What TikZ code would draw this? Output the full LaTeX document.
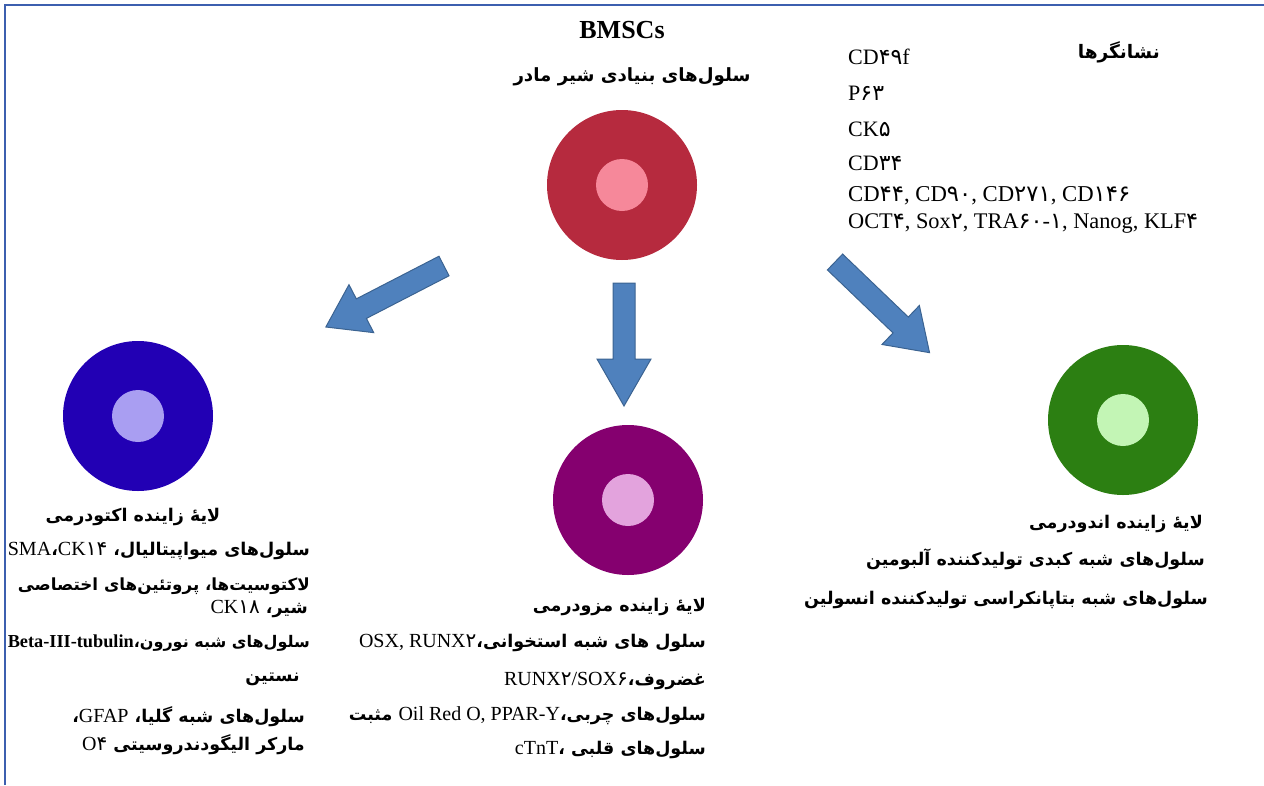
\documentclass[tikz,border=0pt]{standalone}
\usepackage{fontspec}
\setmainfont{Liberation Serif}
\newfontfamily\fa[Script=Arabic]{DejaVu Sans}
\newfontfamily\fadig[Scale=1.0]{DejaVu Sans}
\TeXXeTstate=1
\newcommand\pd[1]{{\fadig\mdseries #1}}
\newcommand\ltsz{20}
\newcommand\lt[1]{{\rmfamily\mdseries\fontsize{\ltsz}{\ltsz}\selectfont #1}}
\newsavebox\fitbox
\newdimen\fitdim
\makeatletter
\newcommand\fitto[2]{\sbox\fitbox{#2}\fitdim=\wd\fitbox
  \pgfmathsetmacro\fitr{max(0.85,min(1.12,#1/\fitdim))}%
  \pgfmathsetmacro\newsz{\f@size*\fitr}%
  \pgfmathsetmacro\newlt{\ltsz*\fitr}%
  \let\ltsz\newlt
  \fontsize{\newsz}{\newsz}\selectfont #2}
\makeatother
\definecolor{redout}{HTML}{B62A3E}
\definecolor{redin}{HTML}{F6889A}
\definecolor{blueout}{HTML}{2200B4}
\definecolor{bluein}{HTML}{A99EF2}
\definecolor{purout}{HTML}{85006F}
\definecolor{purin}{HTML}{E3A3DD}
\definecolor{grout}{HTML}{2C7F12}
\definecolor{grin}{HTML}{C3F5B5}
\definecolor{arrfill}{HTML}{4F81BD}
\definecolor{arrdraw}{HTML}{3B6391}
\definecolor{frame}{HTML}{3C5FAF}
\tikzset{
  outer/.style={circle, inner sep=0pt, minimum size=150pt},
  inner/.style={circle, inner sep=0pt, minimum size=52pt},
  barrow/.style={fill=arrfill, draw=arrdraw, line width=1pt, line join=miter},
  fatxt/.style={font=\fa\bfseries\fontsize{17.5}{21}\selectfont, inner sep=0pt, anchor=east},
  latxt/.style={font=\fontsize{22}{26}\selectfont, inner sep=0pt, anchor=west},
}
\newcommand\blockarr[4]{%
  \begin{scope}[shift={(#1)}, rotate=#2]
    \draw[barrow] (0,-11) -- ({#3-#4},-11) -- ({#3-#4},-27) -- (#3,0) -- ({#3-#4},27) -- ({#3-#4},11) -- (0,11) -- cycle;
  \end{scope}}
\begin{document}
\begin{tikzpicture}[x=1pt, y=-1pt]
\useasboundingbox (0,0) rectangle (1264,785);
\draw[frame, line width=1.5pt] (5,785) -- (5,5) -- (1264,5);

% title
\node[font=\bfseries\fontsize{26}{30}\selectfont, inner sep=0pt] (bmsc) at (622,30) {BMSCs};
\node[fatxt, anchor=center] (bmscfa) at (632,77) {\fitto{237}{\beginR سلول‌های بنیادی شیر مادر\endR}};

% circles
\node[outer, fill=redout] (mother) at (622,185) {};
\node[inner, fill=redin] at (mother) {};
\node[outer, fill=blueout] (ecto) at (138,416) {};
\node[inner, fill=bluein] at (ecto) {};
\node[outer, fill=purout] (meso) at (628,500) {};
\node[inner, fill=purin] at (meso) {};
\node[outer, fill=grout] (endo) at (1123,420) {};
\node[inner, fill=grin] at (endo) {};

% arrows
\coordinate (aL) at (444,266);
\coordinate (aM) at (624,283);
\coordinate (aR) at (835,262);
\blockarr{aL}{207.3}{133}{40}
\blockarr{aM}{270}{123}{47}
\blockarr{aR}{-43.8}{131}{40}

% markers
\node[fatxt] (mk) at (1160,52) {\fitto{82}{\beginR نشانگرها\endR}};
\node[latxt] (m1) at (848,57) {CD\pd{۴۹}f};
\node[latxt] (m2) at (848,93) {P\pd{۶۳}};
\node[latxt] (m3) at (848,129) {CK\pd{۵}};
\node[latxt] (m4) at (848,163) {CD\pd{۳۴}};
\node[latxt] (m5) at (848,196) {\fitto{282}{CD\pd{۴۴}, CD\pd{۹۰}, CD\pd{۲۷۱}, CD\pd{۱۴۶}}};
\node[latxt] (m6) at (848,224) {\fitto{350}{OCT\pd{۴}, Sox\pd{۲}, TRA\pd{۶۰}-\pd{۱}, Nanog, KLF\pd{۴}}};

% ectoderm
\node[fatxt, anchor=center] (e1) at (133,517) {\beginR لایهٔ زاینده اکتودرمی\endR};
\node[fatxt] (e2) at (310,551) {\fitto{302}{\beginR سلول‌های میواپیتالیال، \beginL\lt{CK\pd{۱۴}}\endL ،\beginL\lt{SMA}\endL\endR}};
\node[fatxt] (e3) at (310,586) {\fitto{292}{\beginR لاکتوسیت‌ها، پروتئین‌های اختصاصی\endR}};
\node[fatxt] (e4) at (308,609) {\beginR شیر، \beginL\lt{CK\pd{۱۸}}\endL\endR};
\node[fatxt] (e5) at (310,643) {\fitto{302}{\beginR سلول‌های شبه نورون،\beginL{\rmfamily\bfseries\fontsize{\ltsz}{\ltsz}\selectfont Beta-III-tubulin}\endL\endR}};
\node[fatxt] (e6) at (300,679) {\beginR نستین\endR};
\node[fatxt] (e7) at (305,717) {\beginR سلول‌های شبه گلیا، \beginL\lt{GFAP}\endL ،\endR};
\node[fatxt] (e8) at (305,745) {\beginR مارکر الیگودندروسیتی \beginL\lt{O\pd{۴}}\endL\endR};

% mesoderm
\node[fatxt] (s1) at (706,607) {\beginR لایهٔ زاینده مزودرمی\endR};
\node[fatxt] (s2) at (706,643) {\beginR سلول های شبه استخوانی،\beginL\lt{OSX, RUNX\pd{۲}}\endL\endR};
\node[fatxt] (s3) at (706,681) {\beginR غضروف،\beginL\lt{RUNX\pd{۲}/SOX\pd{۶}}\endL\endR};
\node[fatxt] (s4) at (706,716) {\beginR سلول‌های چربی،\beginL\lt{Oil Red O, PPAR-Y}\endL{} مثبت\endR};
\node[fatxt] (s5) at (706,750) {\beginR سلول‌های قلبی ،\beginL\lt{cTnT}\endL\endR};

% endoderm
\node[fatxt] (n1) at (1203,524) {\beginR لایهٔ زاینده اندودرمی\endR};
\node[fatxt] (n2) at (1205,559) {\beginR سلول‌های شبه کبدی تولیدکننده آلبومین\endR};
\node[fatxt] (n3) at (1208,600) {\beginR سلول‌های شبه بتاپانکراسی تولیدکننده انسولین\endR};
\end{tikzpicture}
\end{document}
